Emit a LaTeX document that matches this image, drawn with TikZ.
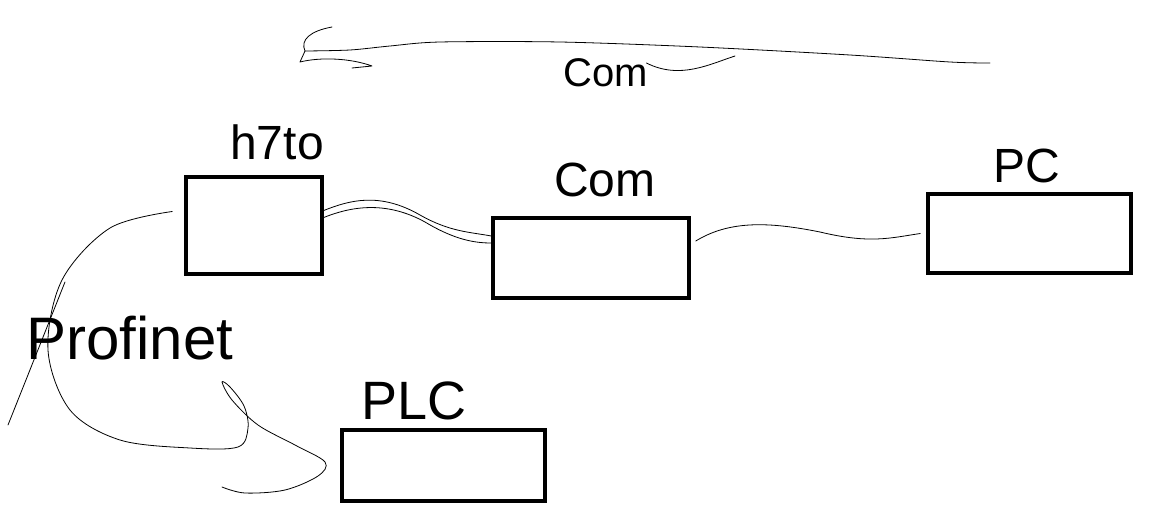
\documentclass[tikz,border=0pt]{standalone}
\usepackage{fontspec}
\setmainfont{Liberation Sans}
\tikzset{
  box/.style={draw, line width=3.5pt, minimum width=#1, inner sep=0pt},
  wire/.style={line width=0.8pt, line join=round, line cap=round},
  lbl/.style={inner sep=0pt, font=\fontsize{#1}{#1}\selectfont},
}
\begin{document}
\begin{tikzpicture}[x=1pt,y=-1pt]
\useasboundingbox (0,0) rectangle (1159,522);
% boxes
\node[box=136pt, minimum height=97pt] (b1) at (254,225.5) {};
\node[box=196pt, minimum height=80pt] (b2) at (591,258) {};
\node[box=203pt, minimum height=79pt] (b3) at (1029.5,233.5) {};
\node[box=203pt, minimum height=71pt] (b4) at (443.5,465.5) {};
% labels
\node[lbl=48pt] (l1) at (277,142) {h7to};
\node[lbl=48pt] (l2) at (605,180) {Com};
\node[lbl=48pt] (l3) at (1027,166) {PC};
\node[lbl=54pt] (l4) at (414,401) {PLC};
\node[lbl=60pt] (l5) at (130,338) {Profinet};
\node[lbl=40pt] (l6) at (606,73) {Com};
% connectors b1 - b2 (double wavy)
\draw[wire] ([yshift=15pt]b1.east) .. controls (350,200) and (380,192) .. (420,215)
  .. controls (450,232) and (470,232) .. ([yshift=22pt]b2.west);
\draw[wire] ([yshift=8pt]b1.east) .. controls (350,207) and (385,200) .. (425,222)
  .. controls (455,240) and (475,243) .. ([yshift=15pt]b2.west);
% b2 - b3
\draw[wire] ([xshift=5pt,yshift=17pt]b2.east) .. controls (730,220) and (770,222) .. (820,232)
  .. controls (870,244) and (890,238) .. ([xshift=-6pt]b3.west);
% profinet curve
\coordinate (pend) at (222,487);
\draw[wire] plot[smooth, tension=0.55] coordinates {([xshift=-12pt,yshift=14pt]b1.west) (110,228) (62,280) (48,350) (70,410) (120,440) (190,448) (238,447) (248,428) (244,406) (230,387) (222,382) (232,400) (258,425) (295,445) (325,462) (318,476) (285,490) (245,493) (pend)};
\draw[wire] (65,282) -- (8,425);
% top arrow
\coordinate (ts) at (990,63);
\coordinate (te) at (305,51);
\draw[wire] plot[smooth, tension=0.5] coordinates {(ts) (950,62) (850,55) (700,47) (560,42) (440,42) (390,46) (350,50) (te)};
\draw[wire] (te) .. controls (300,40) and (310,31) .. (332,27);
\draw[wire] (te) -- (300,62) .. controls (320,57) and (350,58) .. (372,66) -- (352,68);
\coordinate (tf) at (735,56);
\draw[wire] ([xshift=-2pt,yshift=10pt]l6.east) .. controls (680,80) and (710,64) .. (tf);
\end{tikzpicture}
\end{document}
